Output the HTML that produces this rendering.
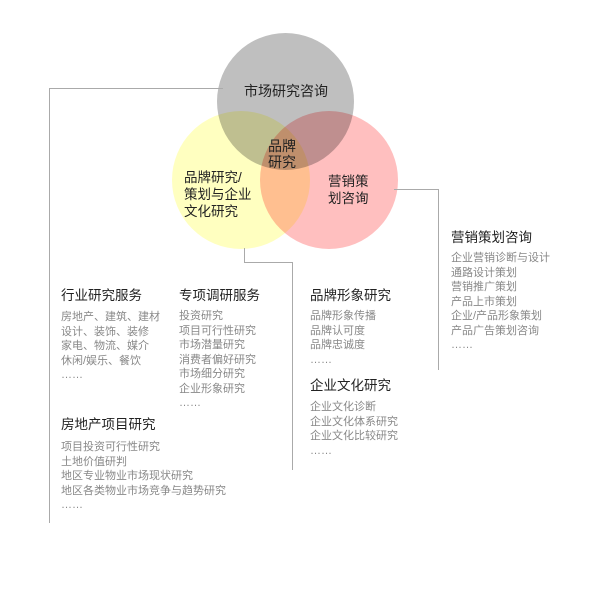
<!DOCTYPE html>
<html><head><meta charset="utf-8"><style>
body{margin:0;width:600px;height:600px;background:#fff;position:relative;overflow:hidden;font-family:"Liberation Sans","Noto Sans CJK SC",sans-serif;}
.c{position:absolute;border-radius:50%;mix-blend-mode:multiply;}
.t{position:absolute;white-space:nowrap;color:#222;}
.h{position:absolute;font-size:13.5px;color:#222;white-space:nowrap;line-height:16px;}
.l{position:absolute;font-size:11px;color:#888;line-height:14.5px;white-space:nowrap;}
.ln{position:absolute;background:#aaa;}
</style></head><body>
<div class="c" style="left:217px;top:33px;width:137px;height:137px;background:#bfbfbf"></div>
<div class="c" style="left:172px;top:111px;width:138px;height:138px;background:#ffffc0"></div>
<div class="c" style="left:260px;top:111px;width:138px;height:138px;background:#ffbfbf"></div>
<div class="t" style="left:244px;top:81px;font-size:14px">市场研究咨询</div>
<div class="t" style="left:268px;top:138px;font-size:14px;line-height:16px">品牌<br>研究</div>
<div class="t" style="left:184px;top:169px;font-size:13.5px;line-height:17px">品牌研究/<br>策划与企业<br>文化研究</div>
<div class="t" style="left:328px;top:173px;font-size:13.5px;line-height:17px">营销策<br>划咨询</div>

<div class="ln" style="left:49px;top:88px;width:174px;height:1px"></div>
<div class="ln" style="left:49px;top:88px;width:1px;height:435px"></div>
<div class="ln" style="left:244px;top:248px;width:1px;height:14px"></div>
<div class="ln" style="left:244px;top:262px;width:48px;height:1px"></div>
<div class="ln" style="left:292px;top:262px;width:1px;height:208px"></div>
<div class="ln" style="left:394px;top:189px;width:44px;height:1px"></div>
<div class="ln" style="left:438px;top:189px;width:1px;height:181px"></div>

<div class="h" style="left:61px;top:288px">行业研究服务</div>
<div class="l" style="left:61px;top:310px">房地产、建筑、建材<br>设计、装饰、装修<br>家电、物流、媒介<br>休闲/娱乐、餐饮<br>……</div>
<div class="h" style="left:179px;top:288px">专项调研服务</div>
<div class="l" style="left:179px;top:309px">投资研究<br>项目可行性研究<br>市场潜量研究<br>消费者偏好研究<br>市场细分研究<br>企业形象研究<br>……</div>
<div class="h" style="left:61px;top:417px">房地产项目研究</div>
<div class="l" style="left:61px;top:440px">项目投资可行性研究<br>土地价值研判<br>地区专业物业市场现状研究<br>地区各类物业市场竞争与趋势研究<br>……</div>
<div class="h" style="left:310px;top:288px">品牌形象研究</div>
<div class="l" style="left:310px;top:309px">品牌形象传播<br>品牌认可度<br>品牌忠诚度<br>……</div>
<div class="h" style="left:310px;top:378px">企业文化研究</div>
<div class="l" style="left:310px;top:400px">企业文化诊断<br>企业文化体系研究<br>企业文化比较研究<br>……</div>
<div class="h" style="left:451px;top:230px">营销策划咨询</div>
<div class="l" style="left:451px;top:251px">企业营销诊断与设计<br>通路设计策划<br>营销推广策划<br>产品上市策划<br>企业/产品形象策划<br>产品广告策划咨询<br>……</div>
</body></html>
